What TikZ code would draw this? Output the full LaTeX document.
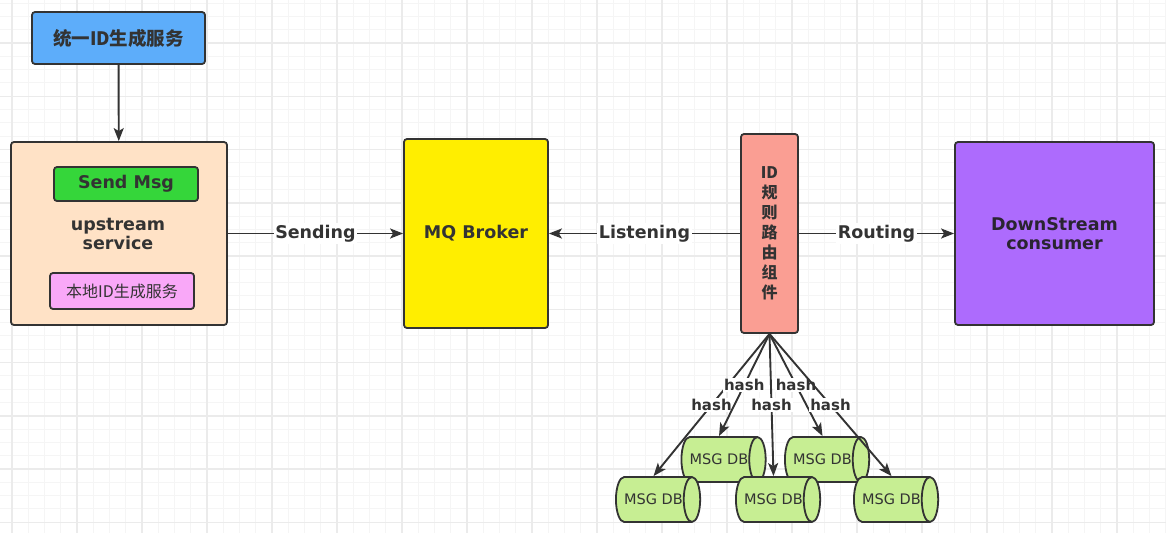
\documentclass[tikz,border=0pt]{standalone}
\usepackage{fontspec}
\setmainfont{DejaVu Sans}
\newfontfamily\cjk{Noto Sans CJK SC}
\usetikzlibrary{arrows.meta, shapes.geometric}
\definecolor{boxline}{HTML}{333333}
\definecolor{txt}{HTML}{333333}
\definecolor{idblue}{HTML}{5DADFA}
\definecolor{peach}{HTML}{FFE2C6}
\definecolor{sendgreen}{HTML}{35D63A}
\definecolor{localpink}{HTML}{F9A8F8}
\definecolor{mqyellow}{HTML}{FFEE00}
\definecolor{salmon}{HTML}{FA9E93}
\definecolor{purple}{HTML}{AD6BFD}
\definecolor{dbgreen}{HTML}{C7EE93}
\definecolor{gridminor}{HTML}{F5F5F5}
\definecolor{gridmajor}{HTML}{EBEBEB}
\tikzset{
  box/.style={draw=boxline, line width=1.8pt, rounded corners=3pt, inner sep=0pt},
  lbl/.style={font=\bfseries\fontsize{17.5}{19}\selectfont, text=txt},
  flow/.style={draw=boxline, line width=1.9pt, -{Stealth[length=13pt,width=10pt,inset=3pt]}},
  msgdb/.style={cylinder, draw=boxline, line width=1.8pt, fill=dbgreen, minimum height=83pt,
    minimum width=45pt, shape aspect=1.5, inner sep=0pt, font=\fontsize{14.5}{18}\selectfont, text=txt},
}

\begin{document}
\begin{tikzpicture}[x=1pt, y=-1pt]
\useasboundingbox (0,0) rectangle (1170,551);
\fill[white] (0,0) rectangle (1170,551);
% background grid
\foreach \i in {0,...,72} \draw[gridminor, line width=1pt] ({-4.25+16.25*\i},0) -- ({-4.25+16.25*\i},533);
\foreach \i in {0,...,39} \draw[gridminor, line width=1pt] (0,{3.06+13.3125*\i}) -- (1166,{3.06+13.3125*\i});
\foreach \i in {0,...,17} \draw[gridmajor, line width=1.5pt] ({12+65*\i},0) -- ({12+65*\i},533);
\foreach \i in {0,...,9} \draw[gridmajor, line width=1.5pt] (0,{43+53.25*\i}) -- (1166,{43+53.25*\i});

\begin{scope}[every node/.style={box}]
  \node[fill=idblue, minimum width=173pt, minimum height=52pt,
    font=\cjk\bfseries\fontsize{18.5}{20}\selectfont, text=txt] (idsvc) at (118.5,38) {统一ID生成服务};
  \node[fill=peach, minimum width=216pt, minimum height=183pt] (up) at (119,233.5) {};
  \node[fill=sendgreen, minimum width=144pt, minimum height=34pt, lbl] (send) at (126,184) {Send Msg};
  \node[fill=localpink, minimum width=144pt, minimum height=36pt,
    font=\cjk\fontsize{16}{18}\selectfont, text=txt] (local) at (122,291) {本地ID生成服务};
  \node[fill=mqyellow, minimum width=144pt, minimum height=189pt, lbl] (mq) at (476,233.5) {MQ Broker};
  \node[fill=salmon, minimum width=57pt, minimum height=199pt, align=center,
    font=\cjk\bfseries\fontsize{16}{20}\selectfont, text=txt] (router) at (769.5,233.5) {ID\\规\\则\\路\\由\\组\\件};
  \node[fill=purple, minimum width=199pt, minimum height=183pt, align=center, lbl,
    text=txt!85!purple!60!black] (down) at (1054.5,233.5) {DownStream\\consumer};
\end{scope}
\node[lbl, align=center] (uptext) at (118,234) {upstream\\service};

% message stores, back row first
\node[msgdb] (db4) at (719,459.5) {MSG DB};
\node[msgdb] (db5) at (822.5,459.5) {MSG DB};
\node[msgdb] (db1) at (653.5,499.5) {MSG DB};
\node[msgdb] (db2) at (773.5,499.5) {MSG DB};
\node[msgdb] (db3) at (891.5,499.5) {MSG DB};

\draw[flow] (idsvc) -- (up);
\begin{scope}[every node/.style={fill=white, inner sep=1.5pt, lbl}]
\path (up) edge[flow] node {Sending} (mq);
\path (router) edge[flow] node {Listening} (mq);
\path (router) edge[flow] node {Routing} (down);
\end{scope}
\begin{scope}[every node/.style={fill=white, inner sep=1pt, lbl, font=\bfseries\fontsize{15}{17}\selectfont}]
\path (router.south) edge[flow] node {hash} (db1.north);
\path (router.south) edge[flow] node {hash} (db4.north);
\path (router.south) edge[flow] node {hash} (db2.north);
\path (router.south) edge[flow] node {hash} (db5.north);
\path (router.south) edge[flow] node {hash} (db3.north);
\end{scope}
\end{tikzpicture}
\end{document}
